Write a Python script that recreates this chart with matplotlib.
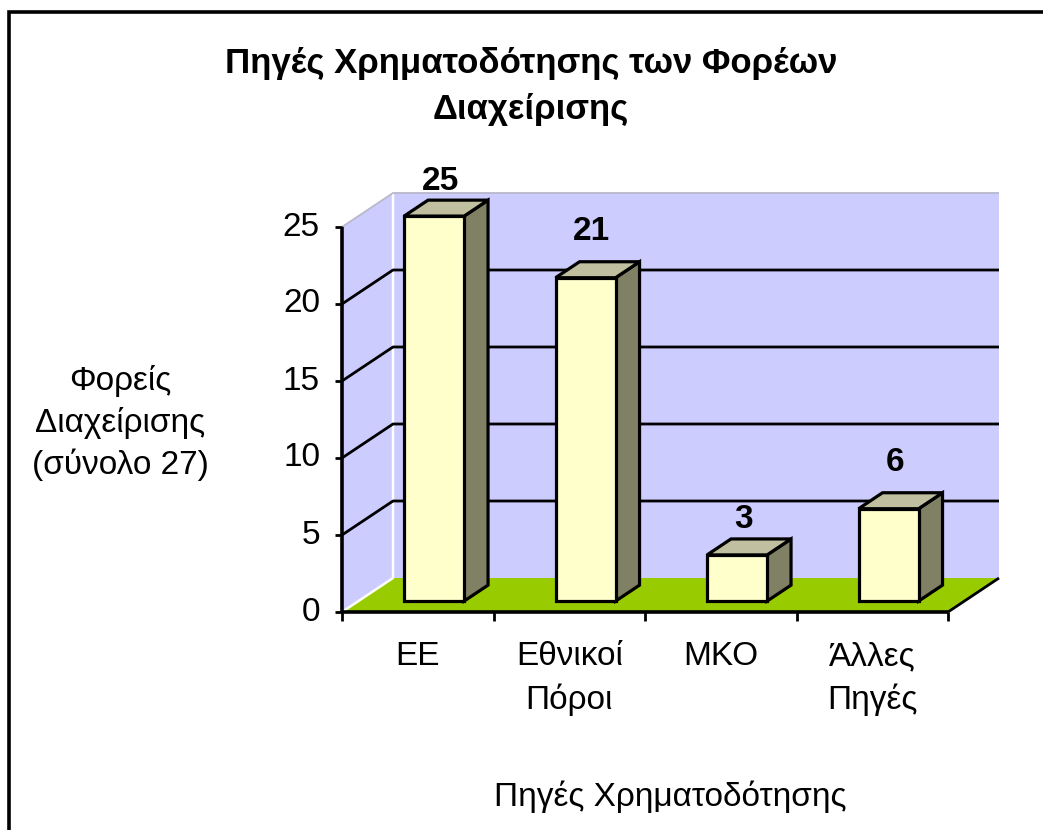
import matplotlib
matplotlib.use('Agg')
import matplotlib.pyplot as plt
from matplotlib.patches import Polygon
from matplotlib.lines import Line2D

# ---- data ----
categories = ['ΕΕ', 'Εθνικοί\nΠόροι', 'ΜΚΟ', 'Άλλες\nΠηγές']
values = [25, 21, 3, 6]
yticks = [0, 5, 10, 15, 20, 25]
title = 'Πηγές Χρηματοδότησης των Φορέων\nΔιαχείρισης'
ylabel = 'Φορείς\nΔιαχείρισης\n(σύνολο 27)'
xlabel = 'Πηγές Χρηματοδότησης'

# ---- style ----
plt.rcParams['font.family'] = ['Liberation Sans', 'DejaVu Sans']
WALL = '#CCCCFF'
FLOOR = '#99CC00'
FRONT = '#FFFFCC'
TOP = '#C0C0A0'
SIDE = '#808064'
label_offsets_px = [19, 30, 19, 30]
FS = 24

W, H = 1043, 830
fig = plt.figure(figsize=(W / 100, H / 100), dpi=100)

# front plot rectangle in pixels
L, R, B, T = 342, 948, 612, 227
ax = fig.add_axes([L / W, 1 - B / H, (R - L) / W, (B - T) / H])
n = len(categories)
ymax = yticks[-1]
ax.set_xlim(0, n)
ax.set_ylim(0, ymax)
ax.axis('off')

px_x = (R - L) / n
px_y = (B - T) / ymax
DX = 51 / px_x
DY = 34 / px_y


def P(x, y, d):
    return (x + d * DX, y + d * DY)


def poly(pts, fc, ec='none', lw=0, z=1):
    ax.add_patch(Polygon(pts, closed=True, facecolor=fc, edgecolor=ec,
                         linewidth=lw, joinstyle='miter', clip_on=False, zorder=z))


def line(pts, color='black', lw=1.6, z=3):
    xs, ys = zip(*pts)
    ax.add_line(Line2D(xs, ys, color=color, linewidth=lw, clip_on=False,
                       zorder=z, solid_capstyle='butt'))


# walls and floor
poly([P(0, 0, 0), P(0, 0, 1), P(0, ymax, 1), P(0, ymax, 0)], WALL)
poly([P(0, 0, 1), P(n, 0, 1), P(n, ymax, 1), P(0, ymax, 1)], WALL)
poly([P(0, 0, 0), P(n, 0, 0), P(n, 0, 1), P(0, 0, 1)], FLOOR)

# wall edges
line([P(0, 0, 0), P(0, 0, 1), P(0, ymax, 1)], color='white', lw=1.8, z=2)
line([P(0, ymax, 0), P(0, ymax, 1), P(n, ymax, 1)], color='#B8B8CC', lw=1.3, z=2)

# gridlines
for v in yticks[1:-1]:
    line([P(0, v, 0), P(0, v, 1), P(n, v, 1)], lw=2.0, z=2)

# floor right edge & axes
line([P(n, 0, 0), P(n, 0, 1)], lw=2.0, z=3)
line([(0, 0), (0, ymax)], lw=2.6, z=6)
line([(0, 0), (n, 0)], lw=2.6, z=6)
for v in yticks:
    line([(-7 / px_x, v), (0, v)], lw=2.0, z=6)
    ax.text(-22 / px_x, v, str(v), ha='right', va='center', fontsize=FS)
for i in range(n + 1):
    line([(i, 0), (i, -9 / px_y)], lw=2.0, z=6)

# bars
bw = 60 / px_x
d0, d1 = 0.32, 0.79
for i, v in enumerate(values):
    c = i + 0.5
    x0, x1 = c - bw / 2, c + bw / 2
    kw = dict(ec='black', lw=2.3, z=4)
    poly([P(x1, 0, d0), P(x1, 0, d1), P(x1, v, d1), P(x1, v, d0)], SIDE, **kw)
    poly([P(x0, v, d0), P(x1, v, d0), P(x1, v, d1), P(x0, v, d1)], TOP, **kw)
    poly([P(x0, 0, d0), P(x1, 0, d0), P(x1, v, d0), P(x0, v, d0)], FRONT, **kw)
    lx, ly = P(c, v, d1)
    ax.text(c + d0 * DX + 6 / px_x, ly + label_offsets_px[i] / px_y, str(v),
            ha='center', va='center', fontsize=FS, fontweight='bold', zorder=7)

# category labels
for i, lab in enumerate(categories):
    ax.text(i + 0.5, -29 / px_y, lab, ha='center', va='top', fontsize=FS,
            linespacing=1.45, multialignment='center')

# titles
fig.text(531 / W, 1 - 86 / H, title, ha='center', va='center', fontsize=25,
         fontweight='bold', linespacing=1.5, multialignment='center')
fig.text(120 / W, 1 - 423 / H, ylabel, ha='center', va='center', fontsize=FS,
         linespacing=1.4, multialignment='center')
fig.text(670 / W, 1 - 797 / H, xlabel, ha='center', va='center', fontsize=FS)

# outer chart border (clipped at right and bottom)
fig.add_artist(Line2D([9 / W, 9 / W, 1.0], [0.0, 1 - 12 / H, 1 - 12 / H],
                      transform=fig.transFigure, color='black', lw=2.6,
                      solid_joinstyle='miter'))

fig.savefig('out.png', dpi=100, facecolor='white')
